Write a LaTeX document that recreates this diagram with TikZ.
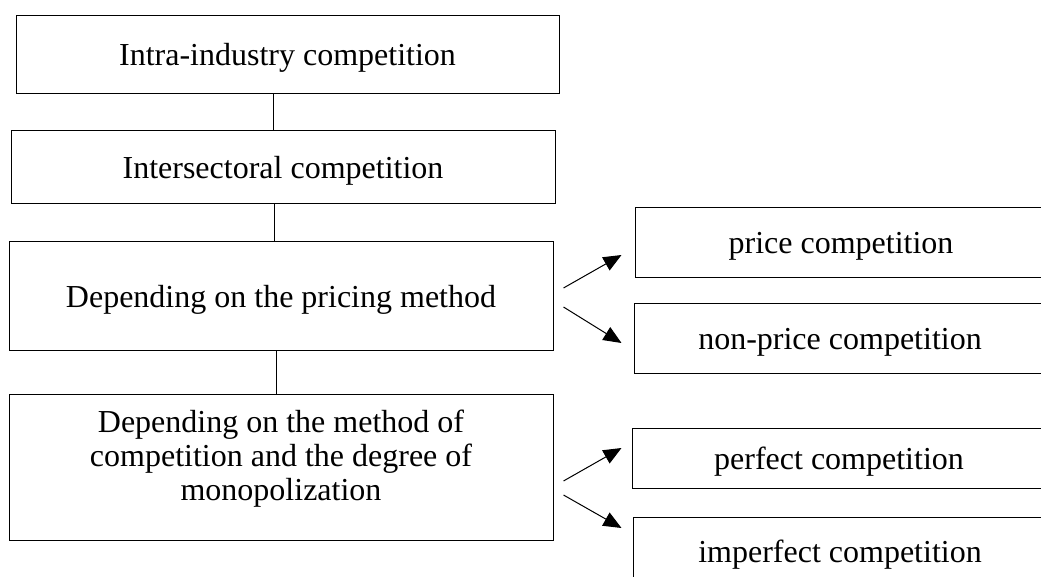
\documentclass[tikz,border=0pt]{standalone}
\usepackage{fontspec}
\setmainfont{Liberation Serif}
\usepackage{tikz}
\usetikzlibrary{arrows.meta}
\usetikzlibrary{positioning, calc}

\tikzset{
    box/.style={draw, line width=1pt, align=center, inner sep=0pt,
        text height=25pt, text depth=2pt,
        font=\fontsize{32}{34}\selectfont},
    txt/.style={align=center, inner sep=0pt, font=\fontsize{32}{34}\selectfont},
    link/.style={line width=1pt},
    arr/.style={line width=1pt, -{Triangle[length=18pt,width=15pt]}}
}

\begin{document}
\begin{tikzpicture}[x=1pt, y=-1pt]
\clip (0,0) rectangle (1041,576);

% left column
\node[box, minimum width=543pt, minimum height=78pt] (intra) at (287.5,54) {Intra-industry competition};
\node[box, minimum width=544pt, minimum height=73pt] (inter) at (283,166.5) {Intersectoral competition};
\node[box, minimum width=544pt, minimum height=109pt] (pricing) at (281,295.5) {Depending on the pricing method};
\node[box, minimum width=544pt, minimum height=146pt] (method) at (281,467) {};
\node[txt] (methodtxt) at (281,459)
    {Depending on the method of\\competition and the degree of\\monopolization};

% right column
\node[box, minimum width=412pt, minimum height=70pt] (price) at (841,242) {price competition};
\node[box, minimum width=412pt, minimum height=70pt] (nonprice) at (840,338) {non-price competition};
\node[box, minimum width=414pt, minimum height=60pt] (perfect) at (839,458) {perfect competition};
\node[box, minimum width=414pt, minimum height=68pt] (imperfect) at (840,551) {imperfect competition};

% vertical links
\draw[link] ([xshift=-14.5pt]intra.south) -- ([xshift=-14.5pt]intra.south |- inter.north);
\draw[link] ([xshift=-9pt]inter.south) -- ([xshift=-9pt]inter.south |- pricing.north);
\draw[link] ([xshift=-5pt]pricing.south) -- ([xshift=-5pt]pricing.south |- method.north);

% arrows
\draw[arr] ([shift={(10,-7.5)}]pricing.east) -- ([shift={(-13,13)}]price.west);
\draw[arr] ([shift={(10,11.5)}]pricing.east) -- ([shift={(-12,5)}]nonprice.west);
\draw[arr] ([shift={(10,14)}]method.east) -- ([shift={(-10,-10)}]perfect.west);
\draw[arr] ([shift={(10,28)}]method.east) -- ([shift={(-11,-23)}]imperfect.west);

\end{tikzpicture}
\end{document}
